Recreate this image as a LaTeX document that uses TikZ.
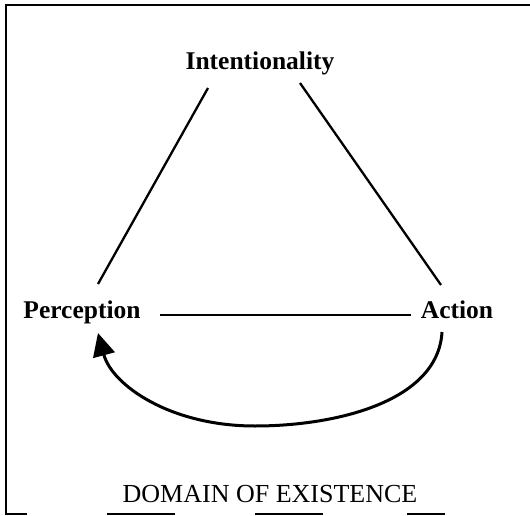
\documentclass[tikz,border=0pt]{standalone}
\usepackage{fontspec}
\setmainfont{Liberation Serif}
\usetikzlibrary{arrows.meta}
\begin{document}
\begin{tikzpicture}[x=1pt,y=-1pt,
  lbl/.style={font=\fontsize{25.5}{28}\selectfont\bfseries, inner sep=0pt, anchor=base},
  captext/.style={font=\fontsize{26}{30}\selectfont, inner sep=0pt, anchor=base},
  edge/.style={line width=2.3pt},
  frame/.style={line width=2pt}]
\useasboundingbox (0,0) rectangle (530,516);
% frame (scanned: top and left solid, bottom broken)
\draw[frame] (530,5) -- (6,5) -- (6,514) -- (27,514);
\draw[frame] (107,514) -- (175,514);
\draw[frame] (255,514) -- (323,514);
\draw[frame] (407,514) -- (445,514);
% nodes
\node[lbl] (I) at (260,70) {Intentionality};
\node[lbl] (P) at (82,318) {Perception};
\node[lbl] (A) at (457,318) {Action};
\node[captext] (D) at (270,502) {DOMAIN OF EXISTENCE};
% connector ends
\coordinate (i1) at (208,88);
\coordinate (i2) at (300,83);
\coordinate (p1) at (98,284);
\coordinate (p2) at (160,315);
\coordinate (a1) at (441,285);
\coordinate (a2) at (411,315);
\coordinate (a3) at (442,332);
\coordinate (bot) at (255,426);
\coordinate (ptip) at (98,333);
% connectors
\draw[edge] (i1) -- (p1);
\draw[edge] (i2) -- (a1);
\draw[line width=1.9pt] (p2) -- (a2);
\draw[line width=3pt, -{Triangle[length=23pt,width=22pt]}]
  (a3) .. controls (438,402) and (335,426) .. (bot)
       .. controls (170,426) and (112,385) .. (ptip);
\end{tikzpicture}
\end{document}
